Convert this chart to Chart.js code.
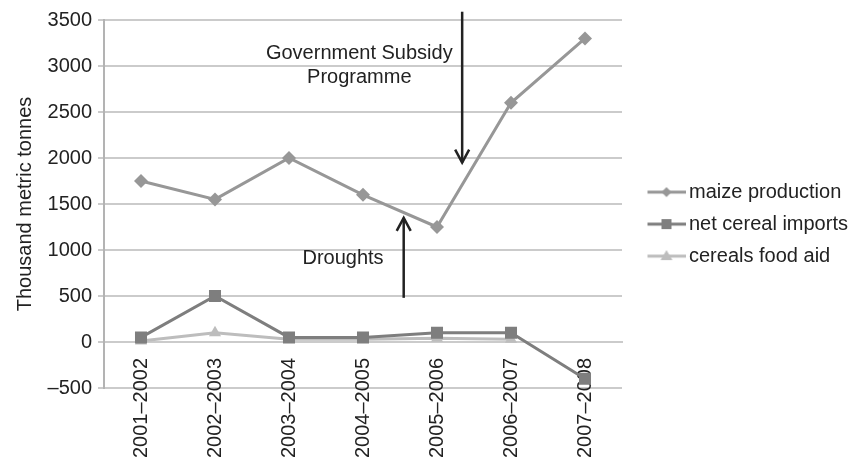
<!DOCTYPE html>
<html>
<head>
<meta charset="utf-8">
<script src="https://cdn.jsdelivr.net/npm/chart.js@4.4.0/dist/chart.umd.min.js"></script>
<style>
  html, body { margin: 0; padding: 0; background: #fff; }
  #wrap { width: 856px; height: 461px; }
</style>
</head>
<body>
<div id="wrap"><canvas id="myChart"></canvas></div>
<script>
// data
const seasons = ['2001–2002', '2002–2003', '2003–2004', '2004–2005', '2005–2006', '2006–2007', '2007–2008'];
const maizeProduction = [1750, 1550, 2000, 1600, 1250, 2600, 3300];
const netCerealImports = [50, 500, 50, 50, 100, 100, -400];
const cerealsFoodAid = [10, 100, 30, 30, 40, 30, null];
const yMin = -500, yMax = 3500, yStep = 500;

// annotations, placed in data space (x = category index)
const notes = [
  { text: 'Government Subsidy', x: 2.95, y: 3140 },
  { text: 'Programme', x: 2.95, y: 2870 },
  { text: 'Droughts', x: 2.73, y: 910 }
];
const arrows = [
  { x: 4.34, from: 3590, to: 1950 },
  { x: 3.55, from: 480, to: 1350 }
];

const FONT = '"Liberation Sans", Arial, sans-serif';
Chart.defaults.font.family = FONT;
Chart.defaults.font.size = 20;
Chart.defaults.color = '#222';

const GRID = '#cbcbcb';

// legend glyph: short line with the marker in the middle
function glyph(color, style) {
  const c = document.createElement('canvas');
  c.width = 58; c.height = 18;
  const g = c.getContext('2d');
  g.strokeStyle = color; g.fillStyle = color; g.lineWidth = 3;
  g.beginPath(); g.moveTo(20, 9); g.lineTo(58, 9); g.stroke();
  const cx = 39, cy = 9;
  g.beginPath();
  if (style === 'rectRot') {
    g.moveTo(cx, cy - 5); g.lineTo(cx + 5, cy); g.lineTo(cx, cy + 5); g.lineTo(cx - 5, cy);
  } else if (style === 'rect') {
    g.rect(cx - 5, cy - 5, 10, 10);
  } else {
    g.moveTo(cx, cy - 6); g.lineTo(cx + 6, cy + 4); g.lineTo(cx - 6, cy + 4);
  }
  g.closePath(); g.fill();
  return c;
}

function drawArrow(ctx, x, y0, y1) {
  const dir = y1 > y0 ? 1 : -1;
  ctx.beginPath();
  ctx.moveTo(x, y0); ctx.lineTo(x, y1);
  ctx.stroke();
  ctx.beginPath();
  ctx.moveTo(x - 7, y1 - dir * 13);
  ctx.lineTo(x, y1);
  ctx.lineTo(x + 7, y1 - dir * 13);
  ctx.stroke();
}

const annotate = {
  id: 'annotate',
  afterDatasetsDraw(chart) {
    const { ctx, scales: { x, y } } = chart;
    ctx.save();
    ctx.fillStyle = '#222';
    ctx.strokeStyle = '#222';
    ctx.lineWidth = 2.5;
    ctx.font = '20px ' + FONT;
    ctx.textAlign = 'center';
    ctx.textBaseline = 'middle';
    notes.forEach(n => ctx.fillText(n.text, x.getPixelForValue(n.x), y.getPixelForValue(n.y)));
    arrows.forEach(a => drawArrow(ctx, x.getPixelForValue(a.x), y.getPixelForValue(a.from), y.getPixelForValue(a.to)));
    ctx.restore();
  }
};

const series = [
  { label: 'maize production', data: maizeProduction, color: '#979797', style: 'rectRot', radius: 7 },
  { label: 'net cereal imports', data: netCerealImports, color: '#7e7e7e', style: 'rect', radius: 8.5 },
  { label: 'cereals food aid', data: cerealsFoodAid, color: '#bdbdbd', style: 'triangle', radius: 7 }
];

new Chart(document.getElementById('myChart'), {
  type: 'line',
  data: {
    labels: seasons,
    datasets: series.map(s => ({
      label: s.label,
      data: s.data,
      borderColor: s.color,
      backgroundColor: s.color,
      borderWidth: 3,
      pointStyle: s.style,
      pointRadius: s.radius,
      pointBorderWidth: 0,
      pointBackgroundColor: s.color,
      tension: 0,
      spanGaps: false
    }))
  },
  options: {
    responsive: true,
    maintainAspectRatio: false,
    animation: false,
    layout: { padding: { top: 20, bottom: 73, left: 0, right: 0 } },
    plugins: {
      tooltip: { enabled: false },
      legend: {
        position: 'right',
        maxWidth: 234,
        title: { display: true, text: ' ', font: { size: 1 }, padding: { top: 20, bottom: 19 } },
        labels: {
          usePointStyle: true,
          pointStyleWidth: 45,
          padding: 12,
          font: { size: 20 },
          generateLabels(chart) {
            return series.map((s, i) => ({
              text: s.label,
              datasetIndex: i,
              pointStyle: glyph(s.color, s.style),
              fillStyle: s.color,
              strokeStyle: s.color,
              lineWidth: 0,
              hidden: false
            }));
          }
        }
      }
    },
    scales: {
      x: {
        position: { y: 0 },
        offset: true,
        grid: { display: false, drawTicks: false },
        border: { display: true, color: GRID, width: 2 },
        ticks: { minRotation: 90, maxRotation: 90, padding: 16, autoSkip: false }
      },
      y: {
        min: yMin,
        max: yMax,
        afterFit(scale) { scale.width = 104; },
        grid: { color: GRID, lineWidth: 2, tickLength: 6 },
        border: { display: true, color: '#b3b3b3', width: 2 },
        ticks: {
          stepSize: yStep,
          padding: 6,
          callback: v => String(v).replace('-', '–')
        },
        title: {
          display: true,
          text: 'Thousand metric tonnes',
          padding: { top: 13, bottom: 0 },
          font: { size: 20 }
        }
      }
    }
  },
  plugins: [annotate]
});
</script>
</body>
</html>
